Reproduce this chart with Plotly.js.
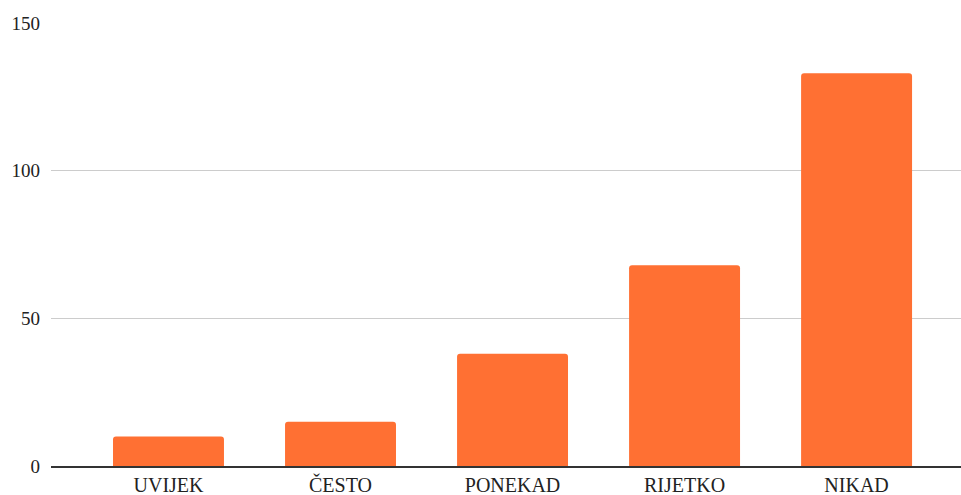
<!DOCTYPE html>
<html>
<head>
<meta charset="utf-8">
<script src="https://cdn.plot.ly/plotly-3.0.1.min.js"></script>
<style>html,body{margin:0;padding:0;background:#fff;}#chart{width:961px;height:495px;}</style>
</head>
<body>
<div id="chart"></div>
<script>
const categories = ["UVIJEK", "ČESTO", "PONEKAD", "RIJETKO", "NIKAD"];
const values = [10, 15, 38, 68, 133];
const yTicks = [0, 50, 100, 150];

const trace = {
  type: "bar",
  x: categories,
  y: values,
  marker: { color: "#FF7033", line: { width: 0 } },
  width: 0.645,
  hoverinfo: "x+y"
};

const layout = {
  width: 961,
  height: 495,
  margin: { l: 51, r: 0, t: 23, b: 29, pad: 0 },
  paper_bgcolor: "#ffffff",
  plot_bgcolor: "#ffffff",
  showlegend: false,
  barcornerradius: 3,
  font: { family: "Liberation Serif, Times New Roman, serif", color: "#222" },
  xaxis: {
    type: "category",
    range: [-0.683, 4.607],
    showgrid: false,
    zeroline: false,
    showline: true,
    linecolor: "#333333",
    linewidth: 1.5,
    ticks: "",
    tickfont: { size: 20, color: "#222" },
    ticklabelstandoff: 0,
    fixedrange: true
  },
  yaxis: {
    range: [0, 150],
    tickvals: yTicks,
    ticktext: yTicks.map(String),
    showgrid: true,
    gridcolor: "#cccccc",
    gridwidth: 1,
    zeroline: false,
    showline: false,
    ticks: "",
    tickfont: { size: 19, color: "#222" },
    ticklabelstandoff: 10,
    fixedrange: true
  }
};

Plotly.newPlot("chart", [trace], layout, { displayModeBar: false, staticPlot: true });
</script>
</body>
</html>
